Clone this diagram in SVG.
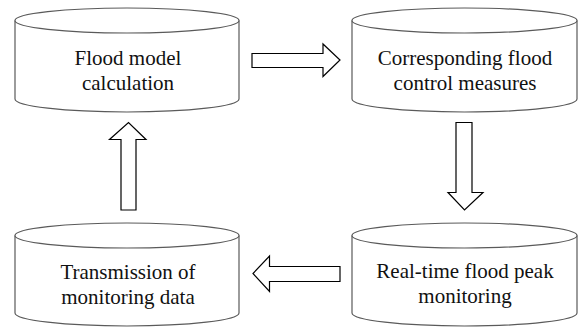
<svg xmlns="http://www.w3.org/2000/svg" width="578" height="328" viewBox="0 0 578 328">
  <style>
    .cyl { fill: #ffffff; stroke: #5a5a5a; stroke-width: 1.2; }
    .arrow { fill: #ffffff; stroke: #000000; stroke-width: 1.2; stroke-linejoin: miter; }
    .label { font-size: 21px; fill: #111111; text-anchor: middle; }
  </style>
  <rect width="578" height="328" fill="#ffffff"/>

  <g font-family="'Liberation Serif', 'DejaVu Serif', serif">
    <!-- Top-left store -->
    <g id="flood-model">
      <path class="cyl" d="M15,20.5 L15,99 A112,13 0 0 0 239,99 L239,20.5"/>
      <ellipse class="cyl" cx="127" cy="20.5" rx="112" ry="12.5"/>
      <text class="label" x="128" y="65">Flood model</text>
      <text class="label" x="128" y="90">calculation</text>
    </g>

    <!-- Top-right store -->
    <g id="control-measures">
      <path class="cyl" d="M352,20.5 L352,99 A112.5,13 0 0 0 577,99 L577,20.5"/>
      <ellipse class="cyl" cx="464.5" cy="20.5" rx="112.5" ry="12.5"/>
      <text class="label" x="465" y="65">Corresponding flood</text>
      <text class="label" x="465" y="90">control measures</text>
    </g>

    <!-- Bottom-right store -->
    <g id="peak-monitoring">
      <path class="cyl" d="M352,235.5 L352,313 A112.5,13 0 0 0 577,313 L577,235.5"/>
      <ellipse class="cyl" cx="464.5" cy="235.5" rx="112.5" ry="12.5"/>
      <text class="label" x="465" y="278">Real-time flood peak</text>
      <text class="label" x="465" y="303">monitoring</text>
    </g>

    <!-- Bottom-left store -->
    <g id="data-transmission">
      <path class="cyl" d="M15,235.5 L15,313 A112,13 0 0 0 239,313 L239,235.5"/>
      <ellipse class="cyl" cx="127" cy="235.5" rx="112" ry="12.5"/>
      <text class="label" x="128" y="279">Transmission of</text>
      <text class="label" x="128" y="304">monitoring data</text>
    </g>
  </g>

  <!-- Block arrows between stores -->
  <g id="connectors">
    <!-- right -->
    <polygon class="arrow" points="252,53.5 323,53.5 323,44 340,60 323,76.5 323,67.5 252,67.5"/>
    <!-- down -->
    <polygon class="arrow" points="456,122.5 472,122.5 472,192.5 483,192.5 464.5,210 448,192.5 456,192.5"/>
    <!-- left -->
    <polygon class="arrow" points="340,266.5 269.5,266.5 269.5,256 253,273.5 269.5,291.5 269.5,281.5 340,281.5"/>
    <!-- up -->
    <polygon class="arrow" points="121,210 136,210 136,139.5 146,139.5 128.5,122.5 109.5,139.5 121,139.5"/>
  </g>
</svg>
